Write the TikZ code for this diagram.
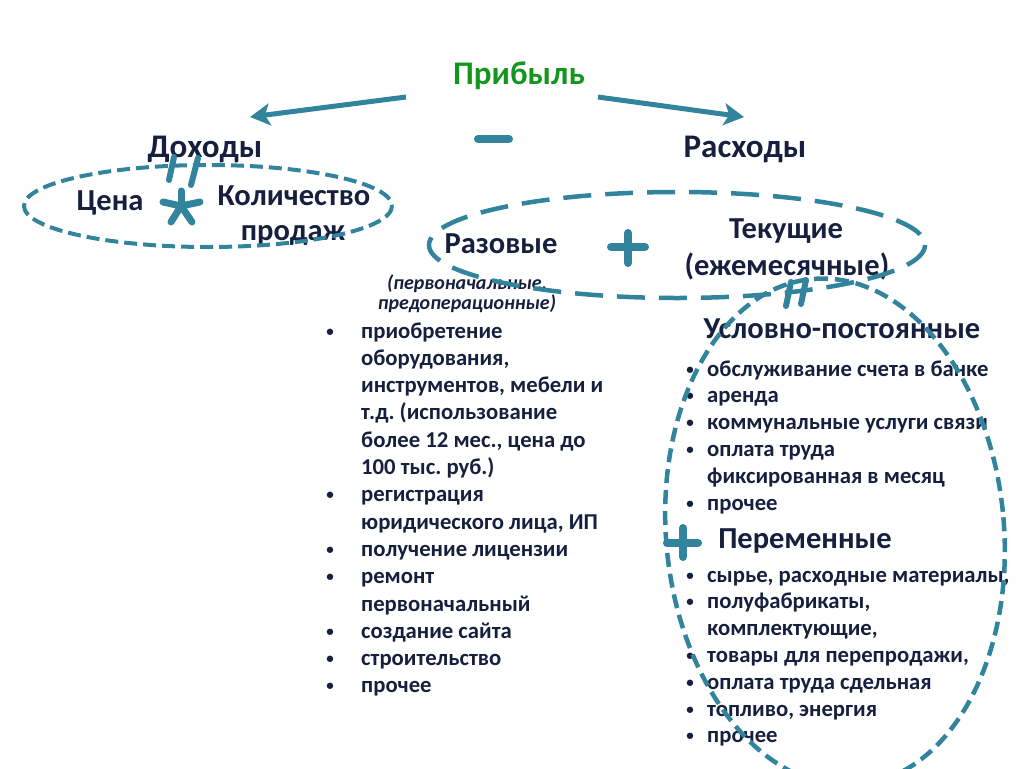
\documentclass[tikz,border=0pt]{standalone}
\usepackage{fontspec}
\setmainfont{Carlito}
\usetikzlibrary{arrows.meta}
\definecolor{teal1}{RGB}{49,132,155}
\definecolor{dark}{RGB}{22,32,62}
\definecolor{grn}{RGB}{20,150,30}
\frenchspacing
\begin{document}
\begin{tikzpicture}[x=1pt,y=-1pt,
  head/.style={text=dark, font=\bfseries\fontsize{33}{40}\selectfont, inner sep=0pt, anchor=base},
  lbl/.style={text=dark, font=\bfseries\fontsize{30.5}{36}\selectfont, inner sep=0pt, anchor=base},
  body/.style={text=dark, font=\bfseries\fontsize{22.7}{27}\selectfont, inner sep=0pt, anchor=base west},
  bodyr/.style={text=dark, font=\bfseries\fontsize{22.7}{27}\selectfont, inner sep=0pt, anchor=base west},
  bul/.style={text=dark, font=\bfseries\fontsize{15}{20}\selectfont, inner sep=0pt, anchor=base},
  note/.style={text=dark, font=\bfseries\itshape\fontsize{20}{24}\selectfont, inner sep=0pt, anchor=base},
  ellA/.style={draw=teal1, line width=4pt, dash pattern=on 13pt off 6pt},
  ellB/.style={draw=teal1, line width=4.5pt, dash pattern=on 28pt off 14pt},
  ellC/.style={draw=teal1, line width=4.5pt, dash pattern=on 14pt off 7pt},
  sym/.style={draw=teal1, line width=7pt, line cap=round},
  eqmark/.style={draw=teal1, line width=6pt, line cap=round},
  arr/.style={draw=teal1, line width=5pt, -{Stealth[length=20pt,width=22pt,inset=5pt]}}
]
\useasboundingbox (0,0) rectangle (1024,768);

% headings
\node[head, text=grn] (prib) at (519,84) {Прибыль};
\node[head] (doh) at (205,157) {Доходы};
\node[head] (ras) at (745,157) {Расходы};

% arrows
\coordinate (aLs) at (406,97);
\coordinate (aLe) at (250,117);
\coordinate (aRs) at (598,97);
\coordinate (aRe) at (744,117);
\draw[arr] (aLs) -- (aLe);
\draw[arr] (aRs) -- (aRe);

% minus
\coordinate (m1) at (478,139);
\coordinate (m2) at (509,139);
\draw[draw=teal1, line width=8pt, line cap=round] (m1) -- (m2);

% left group
\node[lbl] (cena) at (110,210) {Цена};
\node[lbl] (kol) at (294,205) {Количество};
\node[lbl] (prod) at (293,240) {продаж};

% right group
\node[lbl] (raz) at (501,253) {Разовые};
\node[lbl] (tek) at (786,238) {Текущие};
\node[lbl] (ezh) at (787,275) {(ежемесячные)};
\node[note] (n1) at (467,289) {(первоначальные,};
\node[note] (n2) at (467,309) {предоперационные)};

% left list
\node[body] (l0) at (361,338) {приобретение};
\node[body] (l1) at (361,365.3) {оборудования,};
\node[body] (l2) at (361,392.6) {инструментов, мебели и};
\node[body] (l3) at (361,419.9) {т.д. (использование};
\node[body] (l4) at (361,447.2) {более 12 мес., цена до};
\node[body] (l5) at (361,474.5) {100 тыс. руб.)};
\node[body] (l6) at (361,501.8) {регистрация};
\node[body] (l7) at (361,529.1) {юридического лица, ИП};
\node[body] (l8) at (361,556.4) {получение лицензии};
\node[body] (l9) at (361,583.7) {ремонт};
\node[body] (l10) at (361,611) {первоначальный};
\node[body] (l11) at (361,638.3) {создание сайта};
\node[body] (l12) at (361,665.6) {строительство};
\node[body] (l13) at (361,692.9) {прочее};
\node[bul] (b0) at (330,336) {•};
\node[bul] (b6) at (330,499.8) {•};
\node[bul] (b8) at (330,554.4) {•};
\node[bul] (b9) at (330,581.7) {•};
\node[bul] (b11) at (330,636.3) {•};
\node[bul] (b12) at (330,663.6) {•};
\node[bul] (b13) at (330,690.9) {•};

% right: uslovno-postoyannye
\node[lbl] (usl) at (842,338) {Условно-постоянные};
\node[bodyr] (r0) at (707,376) {обслуживание счета в банке};
\node[bodyr] (r1) at (707,402.8) {аренда};
\node[bodyr] (r2) at (707,429.6) {коммунальные услуги связи};
\node[bodyr] (r3) at (707,456.4) {оплата труда};
\node[bodyr] (r4) at (707,483.2) {фиксированная в месяц};
\node[bodyr] (r5) at (707,510) {прочее};
\node[bul] (rb0) at (690,374) {•};
\node[bul] (rb1) at (690,400.8) {•};
\node[bul] (rb2) at (690,427.6) {•};
\node[bul] (rb3) at (690,454.4) {•};
\node[bul] (rb5) at (690,508) {•};

% right: peremennye
\node[lbl] (per) at (805,548) {Переменные};
\node[bodyr] (p0) at (707,582) {сырье, расходные материалы,};
\node[bodyr] (p1) at (707,608.8) {полуфабрикаты,};
\node[bodyr] (p2) at (707,635.6) {комплектующие,};
\node[bodyr] (p3) at (707,662.4) {товары для перепродажи,};
\node[bodyr] (p4) at (707,689.2) {оплата труда сдельная};
\node[bodyr] (p5) at (707,716) {топливо, энергия};
\node[bodyr] (p6) at (707,742.8) {прочее};
\node[bul] (pb0) at (690,580) {•};
\node[bul] (pb1) at (690,606.8) {•};
\node[bul] (pb3) at (690,660.4) {•};
\node[bul] (pb4) at (690,687.2) {•};
\node[bul] (pb5) at (690,714) {•};
\node[bul] (pb6) at (690,740.8) {•};

% ellipses
\draw[ellA] (208,206) ellipse [x radius=184, y radius=41];
\draw[ellB] (677,245) ellipse [x radius=248, y radius=53];
\draw[ellC, rotate around={5:(835,532)}] (835,532) ellipse [x radius=169, y radius=254];

% asterisk
\coordinate (st) at (181,206);
\draw[sym] (st) -- (181,191);
\draw[sym] (st) -- (163,202);
\draw[sym] (st) -- (200,202);
\draw[sym] (st) -- (171,222);
\draw[sym] (st) -- (192,222);

% equality marks
\draw[eqmark] (174,157) -- (169,180);
\draw[eqmark] (198,158) -- (191,185);
\draw[eqmark] (791,282) -- (786,306);
\draw[eqmark] (806,280) -- (801,304);

% plus signs
\coordinate (pl1) at (628,247);
\draw[draw=teal1, line width=8pt, line cap=round] (611,247) -- (645,247) (628,233) -- (628,263);
\coordinate (pl2) at (683,543);
\draw[draw=teal1, line width=8pt, line cap=round] (667,543) -- (698,543) (683,528) -- (683,557);
\end{tikzpicture}
\end{document}
